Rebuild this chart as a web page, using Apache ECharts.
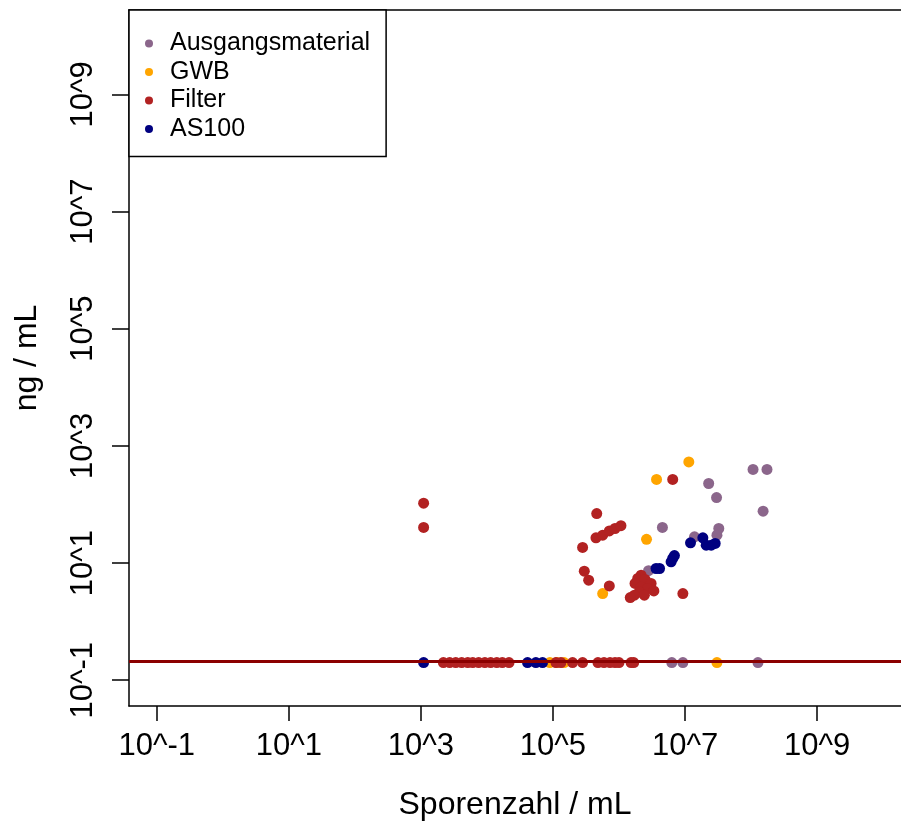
<!DOCTYPE html>
<html>
<head>
<meta charset="utf-8">
<script src="https://cdn.jsdelivr.net/npm/echarts@6/dist/echarts.min.js"></script>
<style>
  html, body { margin: 0; padding: 0; background: #fff; }
  #chart { width: 901px; height: 823px; }
</style>
</head>
<body>
<div id="chart"></div>
<script>
// Sporenzahl (x) vs. Konzentration (y), one pair of arrays per Probenart
const seriesNames = ['Ausgangsmaterial', 'GWB', 'Filter', 'AS100'];
const seriesColors = ['#8B668B', '#FFA500', '#B22222', '#000080'];

const ausgangX = [1.07e8, 1.74e8, 2.28e7, 3.0e7, 1.52e8, 4.54e6, 1.39e7, 3.24e7, 3.04e7, 2.8e6,
                  6.3e6, 9.27e6, 1.27e8];
const ausgangY = [396, 396, 228, 131, 76.7, 40.5, 28, 38.9, 29.9, 7.41,
                  0.2, 0.2, 0.2];

const gwbX = [1.14e7, 3.7e6, 2.61e6, 5.66e5,
              8.97e4, 1.15e5, 1.47e5, 3.04e7];
const gwbY = [533, 267, 25.4, 3.02,
              0.2, 0.2, 0.2, 0.2];

const filterX = [1.1e3, 1.1e3, 6.5e6, 4.6e5, 4.48e5, 5.66e5, 7.13e5, 8.7e5, 1.07e6, 2.81e5,
                 2.98e5, 3.47e5, 7.13e5, 9.27e6,
                 2.16e6, 1.92e6, 2.48e6, 3.06e6, 1.75e6, 2.16e6, 2.73e6, 3.37e6, 2.03e6, 1.71e6, 1.48e6, 2.42e6,
                 2.19e3, 2.73e3, 3.37e3, 4.15e3, 5.12e3, 6.1e3, 7.5e3, 9.3e3, 1.14e4, 1.41e4, 1.71e4, 2.16e4,
                 1.11e5, 1.32e5, 1.98e5, 2.81e5, 4.8e5, 5.92e5, 7.3e5, 8.7e5, 1.0e6, 1.52e6, 1.67e6];
const filterY = [105, 40.5, 267, 70, 26.9, 29.9, 35.4, 38.9, 43.5, 18.5,
                 7.26, 5.09, 4.07, 3.02,
                 6.21, 5.45, 5.24, 4.48, 4.48, 3.92, 3.68, 3.35, 3.22, 2.83, 2.58, 2.83,
                 0.2, 0.2, 0.2, 0.2, 0.2, 0.2, 0.2, 0.2, 0.2, 0.2, 0.2, 0.2,
                 0.2, 0.2, 0.2, 0.2, 0.2, 0.2, 0.2, 0.2, 0.2, 0.2, 0.2];

const as100X = [1.21e7, 1.86e7, 2.09e7, 2.49e7, 2.86e7, 6.9e6, 6.5e6, 6.15e6, 4.11e6, 3.64e6,
                1.1e3, 4.12e4, 5.51e4, 6.95e4];
const as100Y = [22.1, 26.9, 20.2, 20.2, 21.6, 13.4, 12.0, 10.5, 8.07, 8.07,
                0.2, 0.2, 0.2, 0.2];

const xTicks = [1e-1, 1e1, 1e3, 1e5, 1e7, 1e9];
const yTicks = [1e-1, 1e1, 1e3, 1e5, 1e7, 1e9];
const nachweisgrenze = 0.21;

const FONT = '"Liberation Sans", Arial, sans-serif';
const pairs = (xs, ys) => xs.map((x, i) => [x, ys[i]]);
const powLabel = v => '10^' + Math.round(Math.log10(v));

const seriesData = [
  pairs(ausgangX, ausgangY),
  pairs(gwbX, gwbY),
  pairs(filterX, filterY),
  pairs(as100X, as100Y)
];

const X_MIN = Math.pow(10, -1.42), X_MAX = Math.pow(10, 10.27);
const Y_MIN = Math.pow(10, -1.44), Y_MAX = Math.pow(10, 10.44);
const frameLine = { show: true, lineStyle: { color: '#000', width: 1.5 } };

const chart = echarts.init(document.getElementById('chart'), null, { renderer: 'canvas' });

const scatterSeries = seriesNames.map((name, i) => ({
  name: name,
  type: 'scatter',
  data: seriesData[i],
  symbol: 'circle',
  symbolSize: 11,
  itemStyle: { color: seriesColors[i], opacity: 1 },
  emphasis: { disabled: true },
  z: 2
}));

chart.setOption({
  animation: false,
  backgroundColor: '#fff',
  grid: { left: 129, top: 10, right: 0, height: 696, show: false, containLabel: false, outerBoundsMode: 'none' },
  legend: {
    data: seriesNames,
    orient: 'vertical',
    left: 129, top: 10,
    padding: [21, 16, 15, 16],
    itemGap: 3.5,
    itemWidth: 8, itemHeight: 8,
    icon: 'circle',
    borderColor: '#000', borderWidth: 1.5, borderRadius: 0,
    backgroundColor: '#fff',
    selectedMode: false,
    textStyle: { fontFamily: FONT, fontSize: 25, color: '#000', lineHeight: 25, padding: [0, 0, 0, 12] },
    z: 10
  },
  xAxis: [{
    type: 'log', logBase: 10,
    min: X_MIN, max: X_MAX,
    position: 'bottom',
    name: 'Sporenzahl / mL',
    nameLocation: 'middle', nameGap: 83,
    nameTextStyle: { fontFamily: FONT, fontSize: 32, color: '#000' },
    axisLine: frameLine,
    splitLine: { show: false },
    minorTick: { show: false },
    axisTick: { show: true, length: 15, customValues: xTicks, lineStyle: { color: '#000', width: 1.5 } },
    axisLabel: { customValues: xTicks, formatter: powLabel, margin: 25,
                 fontFamily: FONT, fontSize: 31, color: '#000' }
  }, {
    // upper edge of the plot frame
    type: 'log', logBase: 10,
    min: X_MIN, max: X_MAX,
    position: 'top',
    axisLine: frameLine,
    axisTick: { show: false },
    axisLabel: { show: false },
    splitLine: { show: false }
  }],
  yAxis: {
    type: 'log', logBase: 10,
    min: Y_MIN, max: Y_MAX,
    name: 'ng / mL',
    nameLocation: 'middle', nameGap: 86, nameRotate: 90,
    nameTextStyle: { fontFamily: FONT, fontSize: 32, color: '#000' },
    axisLine: frameLine,
    splitLine: { show: false },
    minorTick: { show: false },
    axisTick: { show: true, length: 17, customValues: yTicks, lineStyle: { color: '#000', width: 1.5 } },
    axisLabel: { customValues: yTicks, formatter: powLabel, margin: 30, rotate: 90,
                 fontFamily: FONT, fontSize: 31, color: '#000' }
  },
  series: scatterSeries.concat([{
    name: 'Nachweisgrenze',
    type: 'line',
    data: [],
    z: 5,
    markLine: {
      silent: true,
      symbol: 'none',
      label: { show: false },
      lineStyle: { color: '#8B0000', width: 3, type: 'solid' },
      data: [{ yAxis: nachweisgrenze }]
    }
  }])
});
</script>
</body>
</html>
